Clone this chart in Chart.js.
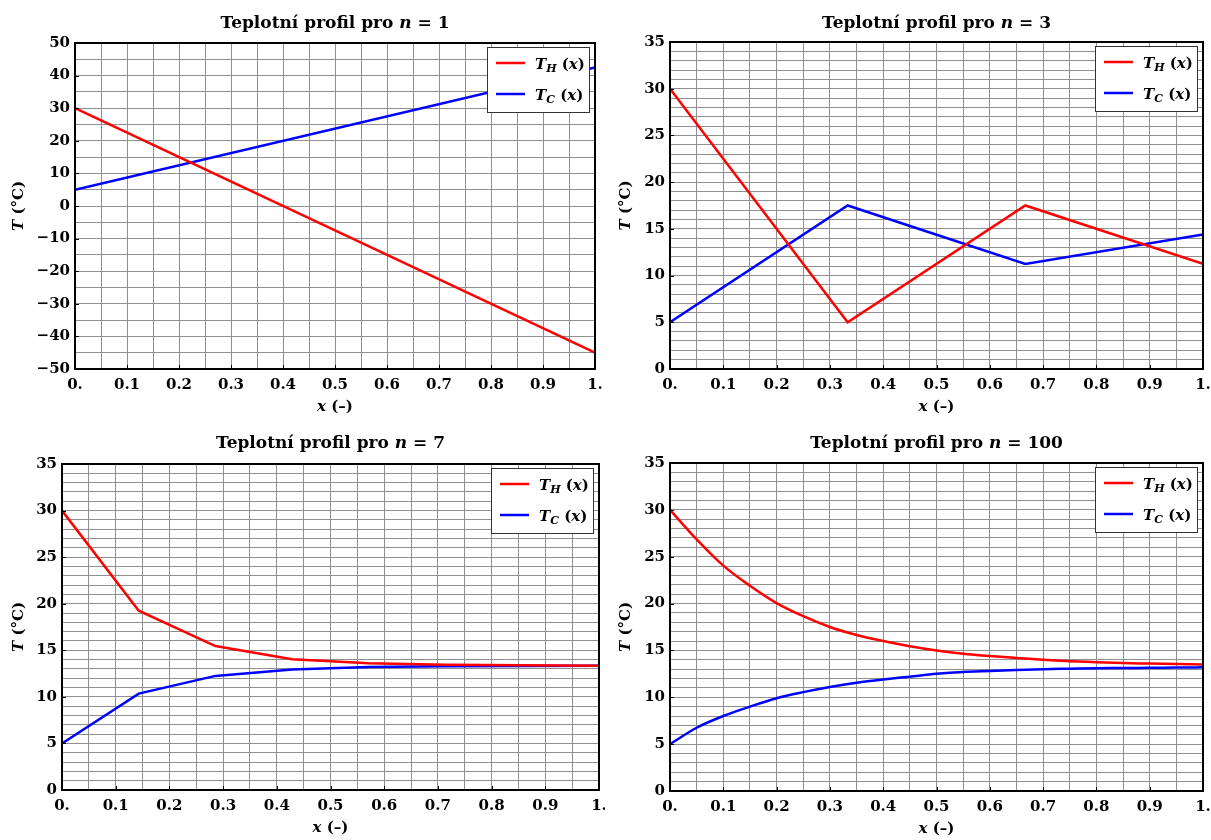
<!DOCTYPE html>
<html>
<head>
<meta charset="utf-8">
<script src="https://cdn.jsdelivr.net/npm/chart.js@4.4.0/dist/chart.umd.min.js"></script>
<style>
  body { margin: 0; background: #fff; width: 1211px; height: 840px; position: relative; overflow: hidden; }
  canvas { position: absolute; }
</style>
</head>
<body>
<canvas id="c1" width="605" height="420" style="left:0;top:0"></canvas>
<canvas id="c2" width="606" height="420" style="left:605px;top:0"></canvas>
<canvas id="c3" width="605" height="420" style="left:0;top:420px"></canvas>
<canvas id="c4" width="606" height="420" style="left:605px;top:420px"></canvas>
<script>
// Values
const panelN = ['1', '3', '7', '100'];

// n = 1
const x1 = [0, 1];
const hot1 = [30, -45];
const cold1 = [5, 42.5];

// n = 3
const x3 = [0, 0.3333, 0.6667, 1];
const hot3 = [30, 5, 17.5, 11.25];
const cold3 = [5, 17.5, 11.25, 14.4];

// n = 7
const x7 = [0, 0.1429, 0.2857, 0.4286, 0.5714, 0.7143, 0.8571, 1];
const hot7 = [30, 19.25, 15.45, 14.05, 13.6, 13.45, 13.38, 13.35];
const cold7 = [5, 10.35, 12.25, 12.95, 13.2, 13.28, 13.32, 13.33];

// n = 100 (read every 0.05)
const x100 = [0, 0.05, 0.1, 0.15, 0.2, 0.25, 0.3, 0.35, 0.4, 0.45, 0.5,
              0.55, 0.6, 0.65, 0.7, 0.75, 0.8, 0.85, 0.9, 0.95, 1];
const hot100 = [30, 26.85, 24.05, 21.9, 20.05, 18.65, 17.5, 16.65, 16.0, 15.45, 15.0,
                14.65, 14.4, 14.2, 14.0, 13.85, 13.75, 13.65, 13.6, 13.55, 13.5];
const cold100 = [5, 6.75, 8.0, 9.0, 9.9, 10.55, 11.1, 11.55, 11.9, 12.2, 12.5,
                 12.7, 12.8, 12.9, 13.0, 13.05, 13.1, 13.12, 13.15, 13.17, 13.2];

const FONT = '"DejaVu Serif", serif';

function fontStr(p) {
  return (p.it ? 'italic ' : '') + 'bold ' + (p.sz || 17) + 'px ' + FONT;
}

// draws text made of several differently styled pieces
function richText(ctx, parts, x, y, align) {
  let w = 0;
  parts.forEach(p => { ctx.font = fontStr(p); p.w = ctx.measureText(p.t).width; w += p.w; });
  let cx = align === 'center' ? x - w / 2 : x;
  parts.forEach(p => {
    ctx.font = fontStr(p);
    ctx.fillText(p.t, cx, y + (p.dy || 0));
    cx += p.w;
  });
}

// frame, inner ticks, titles and the legend box
const decorPlugin = {
  id: 'decor',
  afterDraw(chart, args, opts) {
    const ctx = chart.ctx;
    const a = chart.chartArea;
    const xs = chart.scales.x, ys = chart.scales.y;
    ctx.save();
    // small inward tick marks at labelled values
    ctx.strokeStyle = '#000';
    ctx.lineWidth = 1;
    ctx.beginPath();
    xs.ticks.forEach(t => {
      if (t.label === '') return;
      const px = Math.round(xs.getPixelForValue(t.value)) + 0.5;
      ctx.moveTo(px, a.bottom); ctx.lineTo(px, a.bottom - 4);
    });
    ys.ticks.forEach(t => {
      if (t.label === '') return;
      const py = Math.round(ys.getPixelForValue(t.value)) + 0.5;
      ctx.moveTo(a.left, py); ctx.lineTo(a.left + 4, py);
    });
    ctx.stroke();
    // frame
    ctx.lineWidth = 2;
    ctx.strokeRect(a.left, a.top, a.right - a.left, a.bottom - a.top);

    ctx.fillStyle = '#000';
    ctx.textBaseline = 'alphabetic';
    // title
    richText(ctx, [{t: 'Teplotní profil pro '}, {t: 'n', it: true}, {t: ' = ' + opts.n}],
      (a.left + a.right) / 2, 28, 'center');
    // x axis title
    richText(ctx, [{t: 'x', it: true, sz: 15}, {t: ' (–)', sz: 15}],
      (a.left + a.right) / 2, a.bottom + 42, 'center');
    // y axis title
    ctx.save();
    ctx.translate(opts.yTitleX, (a.top + a.bottom) / 2);
    ctx.rotate(-Math.PI / 2);
    richText(ctx, [{t: 'T', it: true, sz: 15}, {t: ' (°C)', sz: 15}], 0, 5, 'center');
    ctx.restore();

    // legend
    const bw = 102, bh = 65;
    const bx = a.right - 6 - bw, by = a.top + 4;
    ctx.fillStyle = '#fff';
    ctx.fillRect(bx, by, bw, bh);
    ctx.strokeStyle = '#333';
    ctx.lineWidth = 1;
    ctx.strokeRect(bx + 0.5, by + 0.5, bw, bh);
    const items = [
      {c: 'red', s: 'H', y: by + 16},
      {c: 'blue', s: 'C', y: by + 47}
    ];
    items.forEach(it => {
      ctx.strokeStyle = it.c;
      ctx.lineWidth = 2.5;
      ctx.beginPath();
      ctx.moveTo(bx + 9, it.y); ctx.lineTo(bx + 38, it.y);
      ctx.stroke();
      ctx.fillStyle = '#000';
      richText(ctx, [
        {t: 'T', it: true, sz: 15},
        {t: it.s, it: true, sz: 11, dy: 3},
        {t: ' (', sz: 15},
        {t: 'x', it: true, sz: 15},
        {t: ')', sz: 15}
      ], bx + 48, it.y + 6, 'left');
    });
    ctx.restore();
  }
};

function isMultiple(v, step) {
  const r = v / step;
  return Math.abs(r - Math.round(r)) < 1e-6;
}

function makeChart(id, n, xs, hot, cold, y, box, smooth) {
  const canvas = document.getElementById(id);
  const W = canvas.width, H = canvas.height;
  const pts = (arr) => xs.map((x, i) => ({x: x, y: arr[i]}));
  return new Chart(canvas, {
    type: 'line',
    data: {
      datasets: [
        {data: pts(hot), borderColor: 'red', borderWidth: 2.5, pointRadius: 0,
         cubicInterpolationMode: smooth ? 'monotone' : 'default', tension: 0},
        {data: pts(cold), borderColor: 'blue', borderWidth: 2.5, pointRadius: 0,
         cubicInterpolationMode: smooth ? 'monotone' : 'default', tension: 0}
      ]
    },
    options: {
      responsive: false,
      animation: false,
      events: [],
      layout: {padding: {left: 0, top: box.top, right: W - box.right, bottom: 0}},
      plugins: {
        legend: {display: false},
        tooltip: {enabled: false},
        decor: {n: n, yTitleX: box.yTitleX}
      },
      scales: {
        x: {
          type: 'linear', min: 0, max: 1,
          afterFit: s => { s.height = H - box.bottom; s.paddingLeft = 0; s.paddingRight = 0; },
          grid: {color: '#8f8f8f', lineWidth: 1, drawTicks: false},
          border: {display: false},
          ticks: {
            stepSize: 0.05, autoSkip: false, maxRotation: 0, padding: 7, color: '#000',
            font: {family: FONT, size: 15, weight: 'bold'},
            callback: v => {
              if (!isMultiple(v, 0.1)) return '';
              if (Math.abs(v) < 1e-6) return '0.';
              if (Math.abs(v - 1) < 1e-6) return '1.';
              return v.toFixed(1);
            }
          }
        },
        y: {
          type: 'linear', min: y.min, max: y.max,
          afterFit: s => { s.width = box.left; s.paddingTop = 0; s.paddingBottom = 0; },
          grid: {color: '#8f8f8f', lineWidth: 1, drawTicks: false},
          border: {display: false},
          ticks: {
            stepSize: y.step, autoSkip: false, padding: 5, color: '#000',
            font: {family: FONT, size: 15, weight: 'bold'},
            callback: v => {
              if (!isMultiple(v, y.label)) return '';
              return v < 0 ? '\u2212' + Math.abs(v) : String(v);
            }
          }
        }
      }
    },
    plugins: [decorPlugin]
  });
}

makeChart('c1', panelN[0], x1, hot1, cold1, {min: -50, max: 50, step: 5, label: 10},
  {left: 75, right: 595, top: 43, bottom: 369, yTitleX: 18}, false);
makeChart('c2', panelN[1], x3, hot3, cold3, {min: 0, max: 35, step: 1, label: 5},
  {left: 65, right: 598, top: 42, bottom: 369, yTitleX: 20}, false);
makeChart('c3', panelN[2], x7, hot7, cold7, {min: 0, max: 35, step: 1, label: 5},
  {left: 62, right: 599, top: 44, bottom: 370, yTitleX: 18}, false);
makeChart('c4', panelN[3], x100, hot100, cold100, {min: 0, max: 35, step: 1, label: 5},
  {left: 65, right: 598, top: 43, bottom: 371, yTitleX: 20}, true);
</script>
</body>
</html>
